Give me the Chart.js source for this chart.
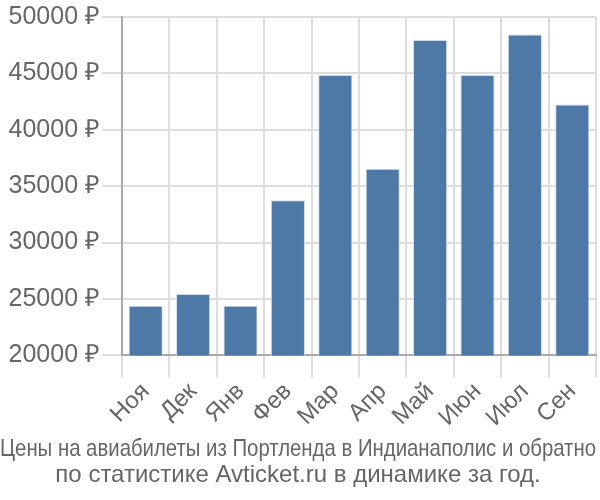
<!DOCTYPE html>
<html>
<head>
<meta charset="utf-8">
<script src="https://cdn.jsdelivr.net/npm/chart.js@4"></script>
<style>
  body { margin: 0; background: #fff; }
  #wrap { width: 600px; height: 500px; }
</style>
</head>
<body>
<div id="wrap"><canvas id="grafico"></canvas></div>
<script>
const meses = ['Ноя', 'Дек', 'Янв', 'Фев', 'Мар', 'Апр', 'Май', 'Июн', 'Июл', 'Сен'];
const precos = [24400, 25450, 24400, 33750, 44850, 36550, 47950, 44850, 48450, 42250];
const titulo = ['Цены на авиабилеты из Портленда в Индианаполис и обратно', 'по статистике Avticket.ru в динамике за год.'];

Chart.defaults.font.family = '"Liberation Sans", Arial, sans-serif';
Chart.defaults.color = '#666';

const ctx = document.getElementById('grafico').getContext('2d');
new Chart(ctx, {
    type: 'bar',
    data: {
        labels: meses,
        datasets: [{
            data: precos,
            backgroundColor: 'rgb(78, 121, 167)',
            borderColor: 'rgba(200, 215, 235, 0.9)',
            borderWidth: 1
        }]
    },
    options: {
        responsive: true,
        maintainAspectRatio: false,
        animation: false,
        layout: { padding: { top: 4, right: 4, left: 0, bottom: 11 } },
        plugins: {
            legend: { display: false },
            tooltip: { enabled: false },
            title: {
                display: true,
                position: 'bottom',
                text: titulo,
                font: { size: 24, weight: 'normal', lineHeight: 1.1 },
                color: '#666',
                padding: { top: 4, bottom: 0 }
            }
        },
        scales: {
            x: {
                grid: { color: '#ddd', lineWidth: 2, tickLength: 22, offset: true },
                border: { color: '#aaa', width: 2 },
                ticks: { font: { size: 24 }, maxRotation: 45, minRotation: 45, color: '#666', padding: 0 }
            },
            y: {
                min: 20000,
                max: 50000,
                afterFit: escala => { escala.width = 122; },
                grid: { color: '#ddd', lineWidth: 2, tickLength: 20 },
                border: { color: '#aaa', width: 2 },
                ticks: {
                    stepSize: 5000,
                    font: { size: 25 },
                    color: '#666',
                    padding: 2,
                    callback: v => v + ' ₽'
                }
            }
        }
    }
});
</script>
</body>
</html>
